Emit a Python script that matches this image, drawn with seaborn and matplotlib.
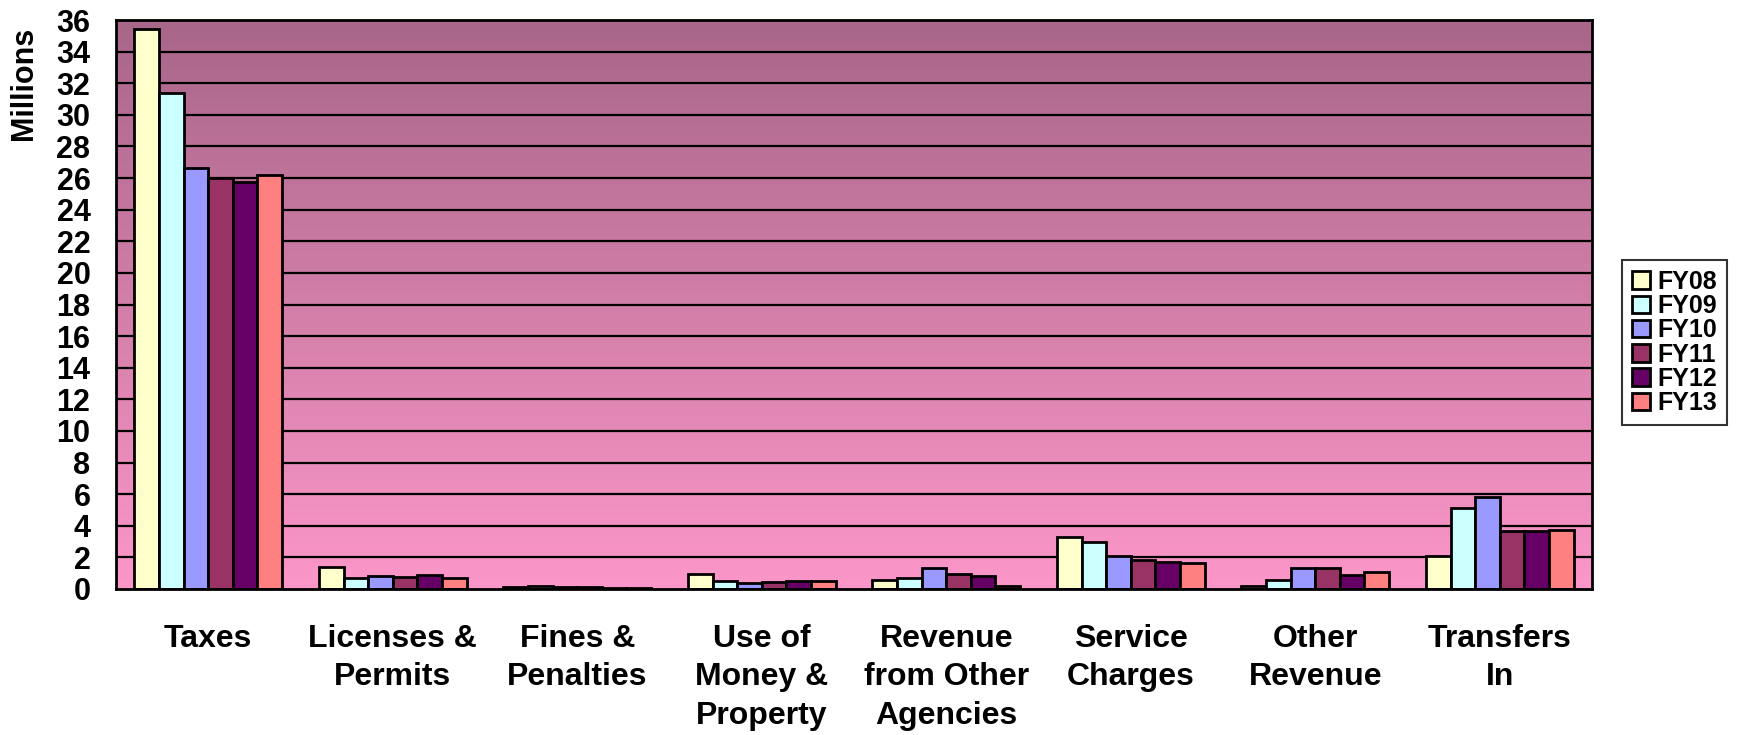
import numpy as np
import pandas as pd
import matplotlib
matplotlib.use("Agg")
import matplotlib.pyplot as plt
import seaborn as sns

# categories and yearly values (millions)
categories = ["Taxes", "Licenses &\nPermits", "Fines &\nPenalties", "Use of\nMoney &\nProperty",
              "Revenue\nfrom Other\nAgencies", "Service\nCharges", "Other\nRevenue", "Transfers\nIn"]
years = ["FY08", "FY09", "FY10", "FY11", "FY12", "FY13"]
fy08 = [35.40, 1.37, 0.10, 0.92, 0.54, 3.28, 0.22, 2.11]
fy09 = [31.35, 0.70, 0.22, 0.52, 0.70, 2.98, 0.60, 5.13]
fy10 = [26.65, 0.84, 0.15, 0.35, 1.35, 2.08, 1.33, 5.80]
fy11 = [26.00, 0.76, 0.10, 0.42, 0.97, 1.84, 1.33, 3.65]
fy12 = [25.75, 0.89, 0.07, 0.48, 0.84, 1.69, 0.88, 3.70]
fy13 = [26.20, 0.72, 0.09, 0.48, 0.17, 1.67, 1.09, 3.76]
y_ticks = list(range(0, 37, 2))

colors = ["#FFFFCC", "#CCFFFF", "#9999FF", "#993366", "#660066", "#FF8080"]

rows = []
for yr, vals in zip(years, [fy08, fy09, fy10, fy11, fy12, fy13]):
    for cat, v in zip(categories, vals):
        rows.append({"category": cat, "year": yr, "value": v})
df = pd.DataFrame(rows)

sns.set_style("white")
plt.rcParams["font.family"] = ["Liberation Sans", "DejaVu Sans"]
plt.rcParams["font.weight"] = "bold"
plt.rcParams["text.color"] = "black"
plt.rcParams["xtick.color"] = "black"
plt.rcParams["ytick.color"] = "black"

fig = plt.figure(figsize=(17.37, 7.35), dpi=100)
ax = fig.add_axes([116 / 1737, 1 - 589 / 735, (1592 - 116) / 1737, (589 - 20) / 735])

# gradient background
top_c = np.array([168, 102, 137]) / 255
bot_c = np.array([252, 151, 201]) / 255
t = np.linspace(0, 1, 256)[:, None]
grad = (top_c * (1 - t) + bot_c * t)[:, None, :]
ax.imshow(grad, extent=[-0.5, 7.5, 0, 36], aspect="auto", zorder=0)

sns.barplot(data=df, x="category", y="value", hue="year", palette=colors,
            width=0.8, edgecolor="black", linewidth=2, saturation=1, ax=ax, zorder=2)

ax.set_xlim(-0.5, 7.5)
ax.set_ylim(0, 36)
ax.set_yticks(y_ticks)
ax.set_yticklabels([str(v) for v in y_ticks], fontsize=22, fontweight="bold", color="black")
for y in y_ticks[1:]:
    ax.axhline(y, color="black", lw=1.6, zorder=1)

ax.set_xticks(np.arange(-0.5, 8, 1))
ax.set_xticklabels([])
ax.set_xticks(np.arange(8), minor=True)
ax.set_xticklabels(categories, minor=True, fontsize=23, fontweight="bold", va="top", color="black")
ax.tick_params(axis="x", which="major", direction="out", length=9, width=1.6, color="black")
ax.tick_params(axis="x", which="minor", length=0, pad=25)
ax.tick_params(axis="y", direction="out", length=8.4, width=1.6, color="black", pad=10)
for lbl in ax.get_xticklabels(minor=True):
    lbl.set_linespacing(1.38)

for s in ax.spines.values():
    s.set_color("black")
    s.set_linewidth(2)
    s.set_visible(True)

ax.set_xlabel("")
ax.set_ylabel("")
fig.text(24 / 1737, 1 - 83 / 735, "Millions", rotation=90, fontsize=22,
         fontweight="bold", ha="center", va="center", color="black")

handles, labels = ax.get_legend_handles_labels()
if ax.legend_:
    ax.legend_.remove()
leg = fig.legend(handles, labels, loc="upper left", bbox_to_anchor=(1622 / 1737, 1 - 260 / 735),
                 bbox_transform=fig.transFigure, frameon=True, fancybox=False,
                 prop={"size": 18, "weight": "bold"}, handlelength=0.7, handleheight=0.7,
                 handletextpad=0.3, labelspacing=0.01, borderpad=0.4, borderaxespad=0)
leg.get_frame().set_edgecolor("black")
leg.get_frame().set_linewidth(1.5)

fig.savefig("out.png", dpi=100, facecolor="white")
